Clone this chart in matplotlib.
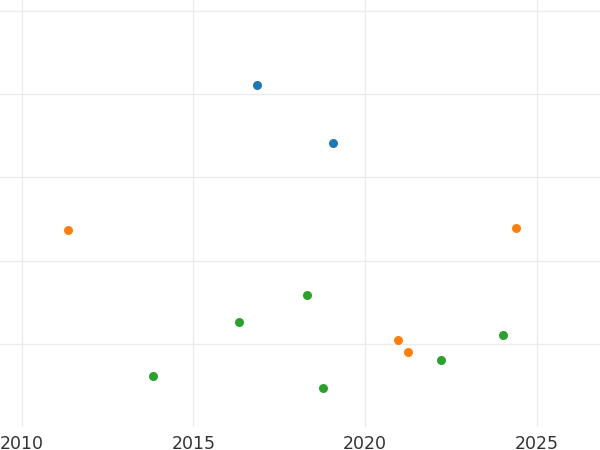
import matplotlib
matplotlib.use("Agg")
import matplotlib.pyplot as plt

# series values (y in arbitrary units, grid every 10)
blue_x = [2016.85, 2019.07]
blue_y = [41.1, 34.1]
orange_x = [2011.34, 2024.40, 2020.96, 2021.25]
orange_y = [23.7, 23.9, 10.4, 9.0]
green_x = [2013.82, 2016.33, 2018.31, 2018.78, 2022.22, 2024.02]
green_y = [6.1, 12.6, 15.9, 4.7, 8.0, 11.0]
year_ticks = [2010, 2015, 2020, 2025]
y_grid = [10, 20, 30, 40, 50]

fig = plt.figure(figsize=(6, 4.5), dpi=100)
ax = fig.add_axes([0, 0.0511, 1, 0.9489])

ax.scatter(blue_x, blue_y, s=42, color="#1f77b4", zorder=3, linewidths=0)
ax.scatter(orange_x, orange_y, s=42, color="#ff7f0e", zorder=3, linewidths=0)
ax.scatter(green_x, green_y, s=42, color="#2ca02c", zorder=3, linewidths=0)

ax.set_xlim(2009.36, 2026.85)
ax.set_ylim(0, 51.3)
ax.set_xticks(year_ticks)
ax.set_xticklabels([str(y) for y in year_ticks])
ax.set_yticks(y_grid)
ax.set_yticklabels([])
ax.grid(True, color="#ebebeb", linewidth=1.0)
ax.set_axisbelow(True)
ax.tick_params(axis="both", length=0)
ax.tick_params(axis="x", labelsize=12.5, labelcolor="#333333", pad=6)
for s in ax.spines.values():
    s.set_visible(False)

fig.savefig("out.png", dpi=100)
